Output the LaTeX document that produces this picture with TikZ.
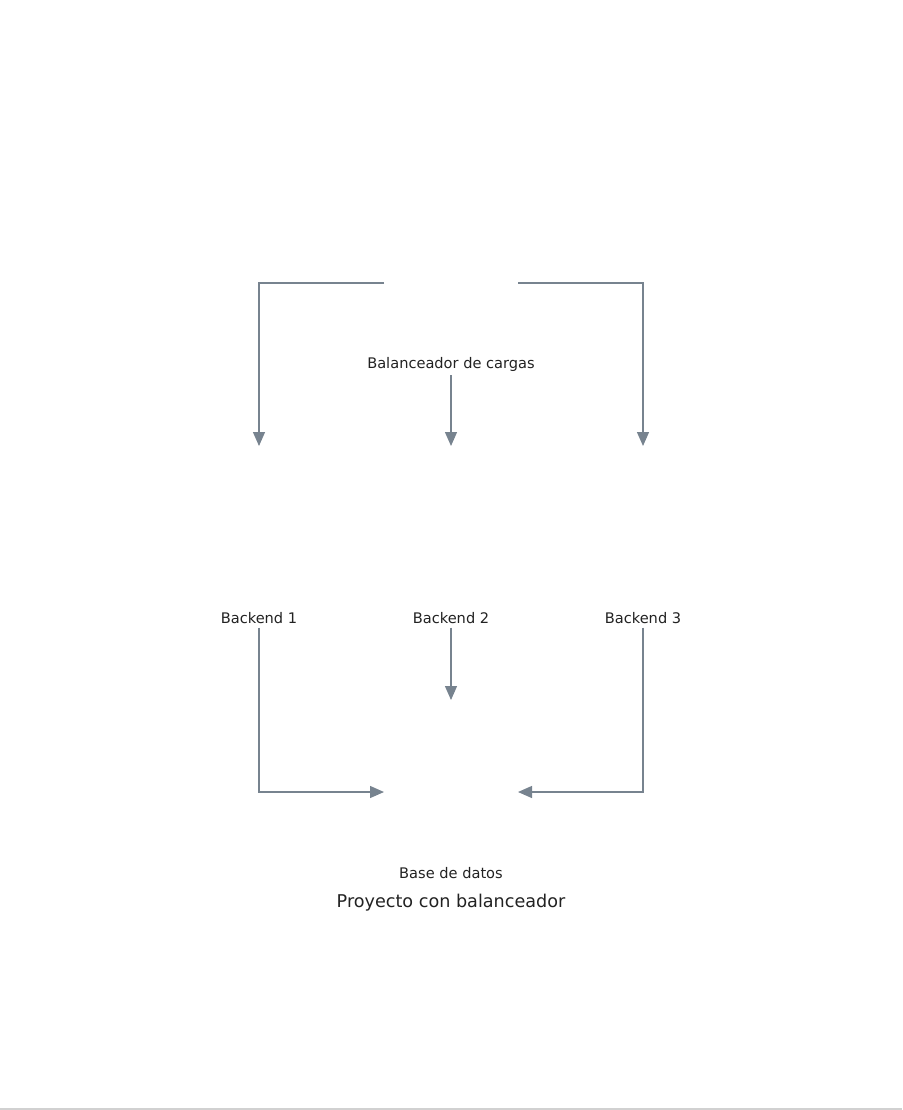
\documentclass[tikz,border=0pt]{standalone}
\usepackage{fontspec}
\setmainfont{DejaVu Sans}
\usetikzlibrary{arrows.meta,positioning}
\definecolor{linkgray}{HTML}{77838F}
\definecolor{labelgray}{HTML}{222222}

\begin{document}
\begin{tikzpicture}[x=1pt, y=-1pt]
            \tikzset{link/.style={draw=linkgray, line width=1.3pt, -{Triangle[length=14pt,width=12pt]}}, tag/.style={text=labelgray, font=\fontsize{14.6}{16}\selectfont, inner sep=0pt, outer sep=4pt}}
            \useasboundingbox (0,0) rectangle (902,1110);
            \draw[black!18, line width=1.5pt] (0,1109.2) -- (902,1109.2);
            % balanceador
            \coordinate (lbw) at (384,283);
            \coordinate (lbe) at (518,283);
            \node[tag] (lb) at (451,364) {Balanceador de cargas};
            % backends
            \foreach \i/\x in {1/259, 2/451, 3/643} {
                \coordinate (be\i) at (\x,446);
                \node[tag] (b\i) at (\x,618) {Backend \i};
            }
            \coordinate (b2in) at (451,700);
            % base de datos
            \coordinate (dbw) at (384,792);
            \coordinate (dbe) at (518,792);
            \node[tag] (db) at (451,873) {Base de datos};
            \node[tag, font=\fontsize{17.6}{20}\selectfont] (title) at (451,902.5) {Proyecto con balanceador};
            % conexiones
            \draw[link] (lbw) -| (be1);
            \draw[link] (lb) -- (be2);
            \draw[link] (lbe) -| (be3);
            \draw[link] (b1) |- (dbw);
            \draw[link] (b2) -- (b2in);
            \draw[link] (b3) |- (dbe);
\end{tikzpicture}
\end{document}
